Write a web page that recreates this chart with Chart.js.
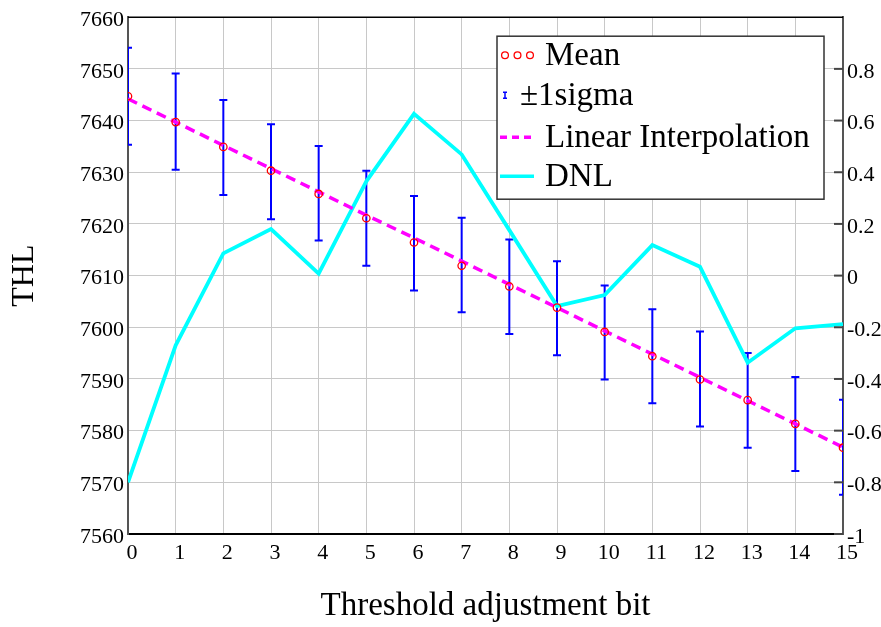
<!DOCTYPE html>
<html>
<head>
<meta charset="utf-8">
<title>THL vs threshold adjustment bit</title>
<script src="https://cdn.jsdelivr.net/npm/chart.js@4.4.1/dist/chart.umd.min.js"></script>
<style>
  html, body { margin: 0; padding: 0; background: #fff; overflow: hidden; }
  #chart { display: block; }
</style>
</head>
<body>
<canvas id="chart" width="881" height="627"></canvas>
<script>
// data
const bits = [0, 1, 2, 3, 4, 5, 6, 7, 8, 9, 10, 11, 12, 13, 14, 15];
const meanTHL = [7644.7, 7639.7, 7634.9, 7630.3, 7625.8, 7621.1, 7616.4, 7611.9, 7607.9, 7603.8, 7599.1, 7594.4, 7589.9, 7585.9, 7581.3, 7576.7];
const sigmaHigh = [7654.1, 7649.1, 7644.0, 7639.3, 7635.1, 7630.3, 7625.4, 7621.2, 7617.0, 7612.8, 7608.1, 7603.5, 7599.2, 7595.0, 7590.4, 7586.0];
const sigmaLow = [7635.3, 7630.5, 7625.6, 7620.9, 7616.8, 7611.9, 7607.1, 7602.9, 7598.7, 7594.6, 7589.9, 7585.3, 7580.8, 7576.7, 7572.2, 7567.6];
const linearFit = [7644.2, 7639.7, 7635.2, 7630.7, 7626.2, 7621.7, 7617.3, 7612.8, 7608.3, 7603.8, 7599.3, 7594.8, 7590.3, 7585.8, 7581.3, 7576.8];
const dnl = [-0.80, -0.27, 0.086, 0.18, 0.008, 0.365, 0.626, 0.469, 0.176, -0.118, -0.075, 0.118, 0.034, -0.337, -0.204, -0.188];

const legendLabels = ['Mean', '\u00b11sigma', 'Linear Interpolation', 'DNL'];

const serif = 'Liberation Serif, Times New Roman, serif';
const pts = (ys) => bits.map((b, i) => ({ x: b, y: ys[i] }));

// error bars, frame and inward right ticks
const extrasPlugin = {
  id: 'extras',
  beforeDatasetsDraw(chart) {
    const { ctx, chartArea: a, scales } = chart;
    ctx.save();
    ctx.beginPath();
    ctx.rect(a.left, a.top, a.right - a.left, a.bottom - a.top);
    ctx.clip();
    ctx.strokeStyle = '#0000ff';
    ctx.lineWidth = 2;
    bits.forEach((b, i) => {
      const x = scales.x.getPixelForValue(b);
      const y1 = scales.y.getPixelForValue(sigmaHigh[i]);
      const y2 = scales.y.getPixelForValue(sigmaLow[i]);
      ctx.beginPath();
      ctx.moveTo(x, y1); ctx.lineTo(x, y2);
      ctx.moveTo(x - 4, y1); ctx.lineTo(x + 4, y1);
      ctx.moveTo(x - 4, y2); ctx.lineTo(x + 4, y2);
      ctx.stroke();
    });
    ctx.restore();
  },
  afterDraw(chart) {
    const { ctx, chartArea: a, scales } = chart;
    ctx.save();
    // top frame line
    ctx.strokeStyle = '#000';
    ctx.lineWidth = 1.5;
    ctx.beginPath();
    ctx.moveTo(a.left, a.top); ctx.lineTo(a.right, a.top);
    ctx.stroke();
    // right axis ticks point into the plot
    ctx.strokeStyle = '#444';
    ctx.lineWidth = 2;
    scales.y1.ticks.forEach(t => {
      if (t.value >= 1) return;
      const y = scales.y1.getPixelForValue(t.value);
      ctx.beginPath();
      ctx.moveTo(a.right - 9, y); ctx.lineTo(a.right, y);
      ctx.stroke();
    });

    // legend box
    const bx = a.right - 346, by = a.top + 19, bw = 327, bh = 163;
    ctx.fillStyle = '#fff';
    ctx.fillRect(bx, by, bw, bh);
    ctx.strokeStyle = '#333';
    ctx.lineWidth = 1.5;
    ctx.strokeRect(bx, by, bw, bh);

    const rowY = [by + 19, by + 59, by + 101, by + 140];
    const symX = bx + 2;
    // Mean: three small circles
    ctx.strokeStyle = '#ff0000';
    ctx.lineWidth = 1.3;
    [6, 18.5, 31].forEach(dx => {
      ctx.beginPath();
      ctx.arc(symX + dx, rowY[0], 3.4, 0, Math.PI * 2);
      ctx.stroke();
    });
    // sigma: tiny error bar
    ctx.strokeStyle = '#0000ff';
    ctx.lineWidth = 1.5;
    ctx.beginPath();
    ctx.moveTo(symX + 6, rowY[1] - 3); ctx.lineTo(symX + 6, rowY[1] + 3);
    ctx.moveTo(symX + 4, rowY[1] - 3); ctx.lineTo(symX + 8, rowY[1] - 3);
    ctx.moveTo(symX + 4, rowY[1] + 3); ctx.lineTo(symX + 8, rowY[1] + 3);
    ctx.stroke();
    // linear: dashed magenta
    ctx.strokeStyle = '#ff00ff';
    ctx.lineWidth = 3.5;
    ctx.setLineDash([7, 5]);
    ctx.beginPath();
    ctx.moveTo(symX + 1, rowY[2]); ctx.lineTo(symX + 35, rowY[2]);
    ctx.stroke();
    ctx.setLineDash([]);
    // DNL: solid cyan
    ctx.strokeStyle = '#00ffff';
    ctx.beginPath();
    ctx.moveTo(symX + 1, rowY[3]); ctx.lineTo(symX + 35, rowY[3]);
    ctx.stroke();

    ctx.fillStyle = '#000';
    ctx.font = '33px ' + serif;
    ctx.textBaseline = 'middle';
    ctx.textAlign = 'left';
    legendLabels.forEach((txt, i) => {
      const tx = i === 1 ? bx + 23 : bx + 48;
      ctx.fillText(txt, tx, rowY[i] + 1);
    });
    ctx.restore();
  }
};

const tickFont = { family: serif, size: 22 };

new Chart(document.getElementById('chart'), {
  type: 'line',
  data: {
    datasets: [
      {
        label: legendLabels[0],
        data: pts(meanTHL),
        showLine: false,
        pointStyle: 'circle',
        pointRadius: 3.7,
        pointBorderWidth: 1.3,
        pointBorderColor: '#ff0000',
        pointBackgroundColor: 'rgba(0,0,0,0)',
        yAxisID: 'y',
        order: 1,
        clip: 0
      },
      {
        label: legendLabels[2],
        data: pts(linearFit),
        borderColor: '#ff00ff',
        borderWidth: 3.5,
        borderDash: [10, 6],
        pointRadius: 0,
        yAxisID: 'y',
        order: 2,
        clip: 0
      },
      {
        label: legendLabels[3],
        data: pts(dnl),
        borderColor: '#00ffff',
        borderWidth: 3.8,
        pointRadius: 0,
        yAxisID: 'y1',
        order: 3,
        clip: 0
      }
    ]
  },
  options: {
    responsive: false,
    animation: false,
    events: [],
    layout: { padding: { top: 16, left: 0, right: 0, bottom: 0 } },
    plugins: { legend: { display: false }, tooltip: { enabled: false } },
    scales: {
      x: {
        type: 'linear',
        min: 0,
        max: 15,
        ticks: { stepSize: 1, font: tickFont, color: '#000', padding: 6, labelOffset: 4, maxRotation: 0 },
        grid: { color: '#c8c8c8', lineWidth: 1, drawTicks: false },
        border: { color: '#000', width: 2 },
        title: { display: true, text: 'Threshold adjustment bit', font: { family: serif, size: 33 }, color: '#000', padding: { top: 0, bottom: 1 } },
        afterFit(scale) { scale.height = 93; }
      },
      y: {
        position: 'left',
        min: 7560,
        max: 7660,
        ticks: { stepSize: 10, font: tickFont, color: '#000', padding: 4, labelOffset: 3, callback: (v) => String(v) },
        grid: { color: '#c8c8c8', lineWidth: 1, drawTicks: false },
        border: { color: '#555', width: 2 },
        title: { display: true, text: 'THL', font: { family: serif, size: 32 }, color: '#000', padding: { top: 5, bottom: 0 } },
        afterFit(scale) { scale.width = 128; }
      },
      y1: {
        position: 'right',
        min: -1,
        max: 1,
        ticks: {
          stepSize: 0.2,
          font: tickFont,
          color: '#000',
          padding: 4,
          labelOffset: 3,
          callback: (v) => {
            if (v >= 1) return '';
            const r = Math.round(v * 10) / 10;
            return r < 0 ? '-' + String(-r) : String(r);
          }
        },
        grid: { display: false, drawTicks: false },
        border: { color: '#555', width: 2 },
        afterFit(scale) { scale.width = 38; }
      }
    }
  },
  plugins: [extrasPlugin]
});
</script>
</body>
</html>
